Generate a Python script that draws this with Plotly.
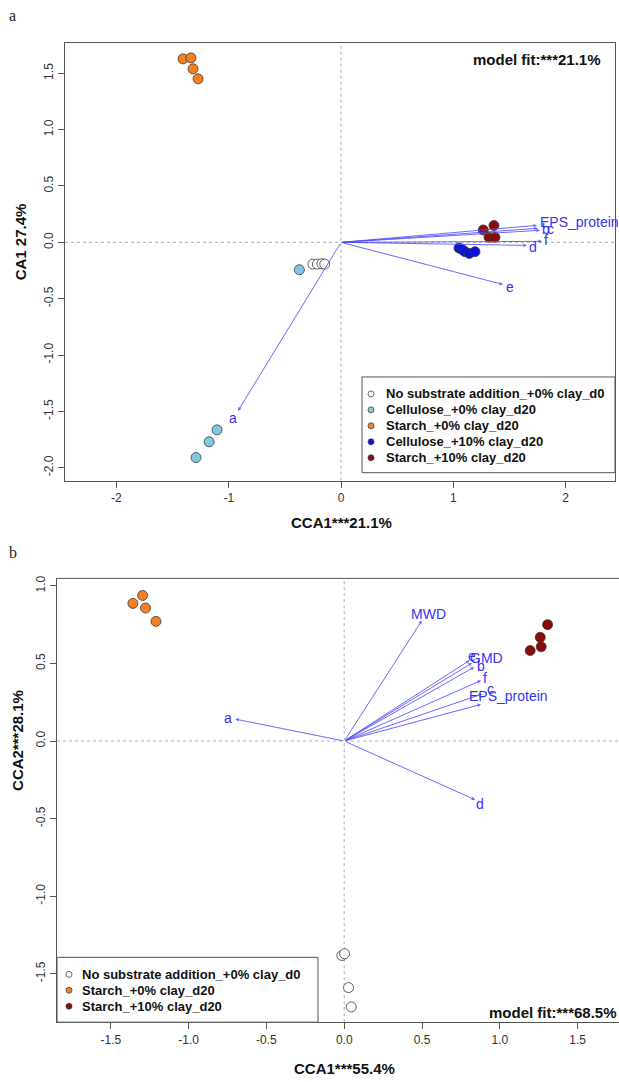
import plotly.graph_objects as go

W, H = 619, 1082

# ---------------- Panel a data ----------------
a_groups = ["No substrate addition_+0% clay_d0", "Cellulose_+0% clay_d20", "Starch_+0% clay_d20",
            "Cellulose_+10% clay_d20", "Starch_+10% clay_d20"]
a_colors = ["#FFFFFF", "#7EC8E3", "#F4801F", "#0A10E8", "#8B0A0A"]
a_x = [
    [-0.25, -0.21, -0.17, -0.145],
    [-0.371, -1.104, -1.175, -1.291],
    [-1.407, -1.336, -1.318, -1.273],
    [1.051, 1.08, 1.104, 1.143, 1.193],
    [1.267, 1.362, 1.318, 1.371],
]
a_y = [
    [-0.193, -0.193, -0.19, -0.193],
    [-0.243, -1.664, -1.77, -1.91],
    [1.628, 1.637, 1.54, 1.451],
    [-0.05, -0.065, -0.083, -0.098, -0.083],
    [0.11, 0.149, 0.045, 0.045],
]
a_vec_names = ["EPS_protein", "b", "c", "f", "d", "e", "a"]
a_vec_x = [1.745, 1.754, 1.772, 1.79, 1.656, 1.443, -0.917]
a_vec_y = [0.151, 0.125, 0.107, 0.009, -0.027, -0.374, -1.496]
a_lab_x = [2.12, 1.825, 1.87, 1.825, 1.71, 1.505, -0.96]
a_lab_y = [0.178, 0.116, 0.116, 0.018, -0.045, -0.40, -1.56]
a_xticks = [-2, -1, 0, 1, 2]
a_yticks = [-2.0, -1.5, -1.0, -0.5, 0.0, 0.5, 1.0, 1.5]

# ---------------- Panel b data ----------------
b_groups = ["No substrate addition_+0% clay_d0", "Starch_+0% clay_d20", "Starch_+10% clay_d20"]
b_colors = ["#FFFFFF", "#F4801F", "#8B0A0A"]
b_x = [
    [-0.015, 0.002, 0.028, 0.045],
    [-1.358, -1.296, -1.277, -1.21],
    [1.307, 1.26, 1.266, 1.195],
]
b_y = [
    [-1.382, -1.371, -1.589, -1.714],
    [0.887, 0.938, 0.857, 0.771],
    [0.75, 0.668, 0.608, 0.583],
]
b_vec_names = ["MWD", "e", "GMD", "b", "f", "c", "EPS_protein", "d", "a"]
b_vec_x = [0.499, 0.805, 0.821, 0.835, 0.879, 0.885, 0.879, 0.842, -0.70]
b_vec_y = [0.776, 0.519, 0.503, 0.476, 0.39, 0.302, 0.236, -0.379, 0.141]
b_lab_x = [0.54, 0.823, 0.913, 0.88, 0.904, 0.943, 1.054, 0.874, -0.747]
b_lab_y = [0.82, 0.546, 0.533, 0.482, 0.405, 0.336, 0.289, -0.403, 0.15]
b_xticks = [-1.5, -1.0, -0.5, 0.0, 0.5, 1.0, 1.5]
b_yticks = [-1.5, -1.0, -0.5, 0.0, 0.5, 1.0]


def fmt(v, dec):
    return f"{v:.{dec}f}"  # hyphen-minus like R


def px_x(p):
    return p / W


def px_y(p):
    return 1 - p / H


ARROW_COL = "rgba(80,80,255,0.85)"
TEXT_COL = "#3434F4"
FONT = "Liberation Sans, Arial, sans-serif"

fig = go.Figure()

for g, c, xs, ys in zip(a_groups, a_colors, a_x, a_y):
    fig.add_trace(go.Scatter(x=xs, y=ys, mode="markers", name=g, showlegend=False,
                             marker=dict(size=10, color=c, line=dict(color="#3a3a3a", width=0.8)),
                             xaxis="x", yaxis="y"))
for g, c, xs, ys in zip(b_groups, b_colors, b_x, b_y):
    fig.add_trace(go.Scatter(x=xs, y=ys, mode="markers", name=g, showlegend=False,
                             marker=dict(size=10, color=c, line=dict(color="#3a3a3a", width=0.8)),
                             xaxis="x2", yaxis="y2"))

ann = []
shapes = []

for xr, yr, xrange_, yrange_ in [("x", "y", (-2.458, 2.44), (-2.115, 1.77)),
                                 ("x2", "y2", (-1.846, 1.766), (-1.812, 1.048))]:
    shapes.append(dict(type="line", xref=xr, yref=yr, x0=0, x1=0, y0=yrange_[0], y1=yrange_[1],
                       line=dict(color="#999999", width=0.8, dash="dot"), layer="below"))
    shapes.append(dict(type="line", xref=xr, yref=yr, x0=xrange_[0], x1=xrange_[1], y0=0, y1=0,
                       line=dict(color="#999999", width=0.8, dash="dot"), layer="below"))

for names, vx, vy, lx, ly, xr, yr in [(a_vec_names, a_vec_x, a_vec_y, a_lab_x, a_lab_y, "x", "y"),
                                       (b_vec_names, b_vec_x, b_vec_y, b_lab_x, b_lab_y, "x2", "y2")]:
    for n, x, y, tx, ty in zip(names, vx, vy, lx, ly):
        ann.append(dict(x=x, y=y, ax=0, ay=0, xref=xr, yref=yr, axref=xr, ayref=yr, text="",
                        showarrow=True, arrowhead=2, arrowsize=0.7, arrowwidth=1, arrowcolor=ARROW_COL))
        ann.append(dict(x=tx, y=ty, xref=xr, yref=yr, text=n, showarrow=False,
                        font=dict(family=FONT, size=14, color=TEXT_COL), xanchor="center", yanchor="middle"))

ann += [
    dict(x=px_x(7), y=px_y(13), xref="paper", yref="paper", text="a", showarrow=False,
         font=dict(family="Liberation Serif, Times New Roman, serif", size=16, color="#222"),
         xanchor="left", yanchor="middle"),
    dict(x=px_x(7), y=px_y(551), xref="paper", yref="paper", text="b", showarrow=False,
         font=dict(family="Liberation Serif, Times New Roman, serif", size=16, color="#222"),
         xanchor="left", yanchor="middle"),
    dict(x=px_x(603), y=px_y(57), xref="paper", yref="paper", text="<b>model fit:***21.1%</b>",
         showarrow=False, font=dict(family=FONT, size=15, color="#111"), xanchor="right", yanchor="middle"),
    dict(x=px_x(619), y=px_y(1012), xref="paper", yref="paper", text="<b>model fit:***68.5%</b>",
         showarrow=False, font=dict(family=FONT, size=15, color="#111"), xanchor="right", yanchor="middle"),
    dict(x=px_x(341), y=px_y(521), xref="paper", yref="paper", text="<b>CCA1***21.1%</b>",
         showarrow=False, font=dict(family=FONT, size=15, color="#111"), xanchor="center", yanchor="middle"),
    dict(x=px_x(20), y=px_y(240), xref="paper", yref="paper", text="<b>CA1 27.4%</b>", textangle=-90,
         showarrow=False, font=dict(family=FONT, size=15, color="#111"), xanchor="center", yanchor="middle"),
    dict(x=px_x(344), y=px_y(1068), xref="paper", yref="paper", text="<b>CCA1***55.4%</b>",
         showarrow=False, font=dict(family=FONT, size=15, color="#111"), xanchor="center", yanchor="middle"),
    dict(x=px_x(18), y=px_y(740), xref="paper", yref="paper", text="<b>CCA2***28.1%</b>", textangle=-90,
         showarrow=False, font=dict(family=FONT, size=15, color="#111"), xanchor="center", yanchor="middle"),
]


def legend(groups, colors, left, top, right, bottom, mx, tx, rows):
    shapes.append(dict(type="rect", xref="paper", yref="paper", x0=px_x(left), x1=px_x(right),
                       y0=px_y(bottom), y1=px_y(top), line=dict(color="#555555", width=1),
                       fillcolor="white", layer="above"))
    for g, c, ry in zip(groups, colors, rows):
        shapes.append(dict(type="circle", xref="paper", yref="paper", xsizemode="pixel", ysizemode="pixel",
                           xanchor=px_x(mx), yanchor=px_y(ry), x0=-3, x1=3, y0=-3, y1=3,
                           fillcolor=c, line=dict(color="#444", width=0.8), layer="above"))
        ann.append(dict(x=px_x(tx), y=px_y(ry), xref="paper", yref="paper", text=f"<b>{g}</b>",
                        showarrow=False, font=dict(family=FONT, size=13, color="#111"),
                        xanchor="left", yanchor="middle"))


legend(a_groups, a_colors, 362, 375, 615, 471, 371, 384, [392, 408, 424, 440, 456])
legend(b_groups, b_colors, 57, 957, 318, 1022, 69, 80, [974, 990, 1006])

shapes.append(dict(type="line", xref="paper", yref="paper", x0=px_x(57), x1=1.0, y0=px_y(577), y1=px_y(577),
                   line=dict(color="#555555", width=1)))

axis_common = dict(showgrid=False, zeroline=False, ticks="outside", ticklen=6, tickcolor="#555555",
                   showline=True, linecolor="#555555", linewidth=1,
                   tickfont=dict(family=FONT, size=12, color="#333"))

fig.update_layout(
    width=W, height=H, margin=dict(l=0, r=0, t=0, b=0),
    paper_bgcolor="white", plot_bgcolor="white", showlegend=False,
    xaxis=dict(domain=[px_x(65), px_x(615)], range=[-2.458, 2.44], anchor="y", mirror=True,
               tickvals=a_xticks, ticktext=[fmt(v, 0) for v in a_xticks], **axis_common),
    yaxis=dict(domain=[px_y(479), px_y(40)], range=[-2.115, 1.77], anchor="x", mirror=True,
               tickvals=a_yticks, ticktext=[fmt(v, 1) for v in a_yticks], tickangle=-90, **axis_common),
    xaxis2=dict(domain=[px_x(57), 1.0], range=[-1.846, 1.766], anchor="y2",
                tickvals=b_xticks, ticktext=[fmt(v, 1) for v in b_xticks], **axis_common),
    yaxis2=dict(domain=[px_y(1022), px_y(577)], range=[-1.812, 1.048], anchor="x2",
                tickvals=b_yticks, ticktext=[fmt(v, 1) for v in b_yticks], tickangle=-90, **axis_common),
    annotations=ann, shapes=shapes,
)

fig.write_html("out.html", config={"displayModeBar": False},
               post_script="document.body.style.margin='0px';document.body.style.overflow='hidden';")
